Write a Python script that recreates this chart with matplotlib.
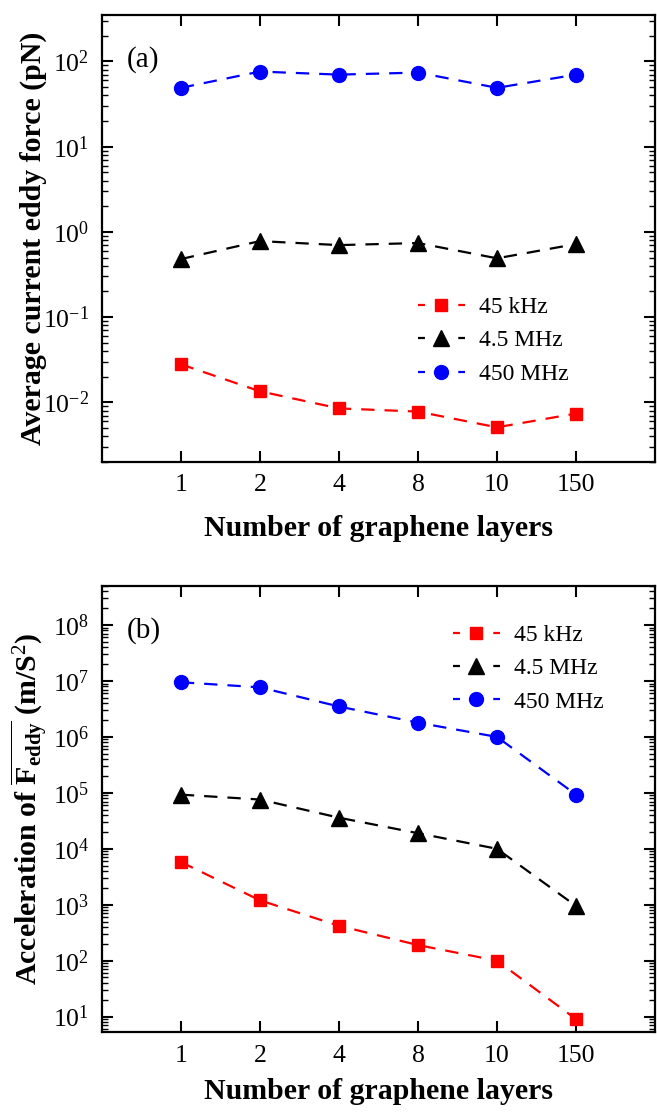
import matplotlib
matplotlib.use("Agg")
import matplotlib.pyplot as plt
from matplotlib.ticker import LogLocator, NullFormatter

plt.rcParams['font.family'] = ['Liberation Serif', 'DejaVu Serif']
plt.rcParams['mathtext.fontset'] = 'custom'
plt.rcParams['mathtext.rm'] = 'Liberation Serif'
plt.rcParams['mathtext.it'] = 'Liberation Serif:italic'
plt.rcParams['mathtext.bf'] = 'Liberation Serif:bold'

layers = ['1', '2', '4', '8', '10', '150']
series = ['45 kHz', '4.5 MHz', '450 MHz']

# (a) average eddy current force, pN
force_45k = [0.028, 0.0135, 0.0085, 0.0078, 0.0051, 0.0074]
force_4m5 = [0.48, 0.78, 0.70, 0.74, 0.49, 0.72]
force_450m = [49, 76, 70, 74, 49, 70]

# (b) acceleration, m/s^2
acc_45k = [5.8e3, 1.2e3, 4.2e2, 1.9e2, 1.0e2, 9]
acc_4m5 = [9.3e4, 7.6e4, 3.6e4, 1.9e4, 1.0e4, 9.5e2]
acc_450m = [9.5e6, 7.7e6, 3.5e6, 1.8e6, 1.0e6, 9.3e4]

colors = ['#ff0000', '#000000', '#0000ff']
markers = ['s', '^', 'o']
msizes = [9, 11, 10]
LW = 1.6

fig = plt.figure(figsize=(6.57, 11.14), dpi=100)
ax_a = fig.add_axes([0.155, 0.5853, 0.842, 0.4012])
ax_b = fig.add_axes([0.155, 0.0736, 0.842, 0.4004])

x = list(range(1, len(layers) + 1))


def draw(ax, data, ylim, ylabel, tag, leg_anchor, ylab_x, xpad):
    for vals, c, m, ms, name in zip(data, colors, markers, msizes, series):
        ax.plot(x, vals, color=c, marker=m, markersize=ms, lw=LW,
                linestyle=(0, (6, 4.5)), label=name)
    ax.set_yscale('log')
    ax.set_ylim(*ylim)
    ax.set_xlim(0, 7)
    ax.set_xticks(x)
    ax.set_xticklabels(layers)
    ax.yaxis.set_major_locator(LogLocator(base=10, numticks=20))
    ax.yaxis.set_minor_locator(LogLocator(base=10, subs=range(2, 10), numticks=50))
    ax.yaxis.set_minor_formatter(NullFormatter())
    ax.tick_params(which='both', direction='in', top=True, right=True, labelsize=18.5)
    ax.tick_params(which='major', length=8, width=1.5, pad=9)
    ax.tick_params(which='minor', length=4, width=1.0)
    for s in ax.spines.values():
        s.set_linewidth(1.6)
    ax.set_xlabel('Number of graphene layers', fontsize=21.5, fontweight='bold', labelpad=xpad)
    ax.set_ylabel(ylabel, fontsize=21.5, fontweight='bold')
    ax.yaxis.set_label_coords(ylab_x, 0.5)
    ax.text(0.045, 0.9, tag, transform=ax.transAxes, fontsize=21, va='center')
    leg = ax.legend(loc='upper left', bbox_to_anchor=leg_anchor, frameon=False,
                    fontsize=17, handlelength=2.0, handletextpad=0.6,
                    labelspacing=0.5, borderaxespad=0, borderpad=0)
    # short dash on each side of the marker, as in the original legend
    hl = 2.0 * 17
    for ln in leg.get_lines():
        ln.set_linestyle((0, (5 / LW, (hl - 10) / LW)))


draw(ax_a, [force_45k, force_4m5, force_450m], (2e-3, 3.5e2),
     'Average current eddy force (pN)', '(a)', (0.571, 0.37), -0.10, 13)
draw(ax_b, [acc_45k, acc_4m5, acc_450m], (5.3, 5e8),
     r'Acceleration of $\overline{\mathbf{F}_{\mathbf{eddy}}}$ (m/S$^2$)', '(b)',
     (0.634, 0.914), -0.094, 8)

fig.savefig('out.png', dpi=100)
